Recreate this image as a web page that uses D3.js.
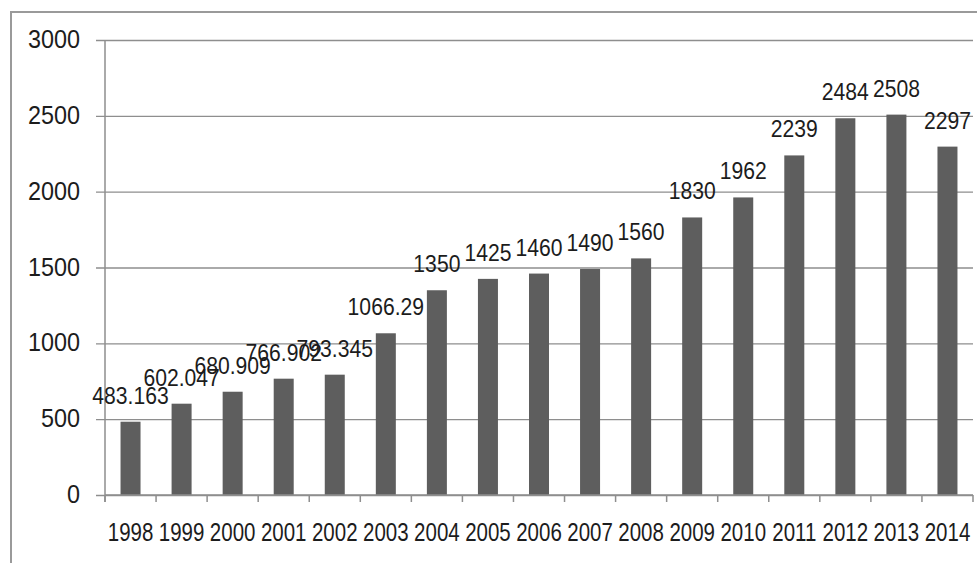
<!DOCTYPE html>
<html>
<head>
<meta charset="utf-8">
<script src="https://cdn.jsdelivr.net/npm/d3@7"></script>
<style>
  html, body { margin: 0; padding: 0; background: #fff; }
  svg { display: block; }
  text { font-family: "Liberation Sans", Arial, sans-serif; fill: #1c1c1c; }
</style>
</head>
<body>
<svg id="chart" width="977" height="563"></svg>
<script>
// Annual values, 1998–2014
const years = ["1998","1999","2000","2001","2002","2003","2004","2005","2006",
               "2007","2008","2009","2010","2011","2012","2013","2014"];
const values = [483.163, 602.047, 680.909, 766.902, 793.345, 1066.29, 1350, 1425, 1460,
                1490, 1560, 1830, 1962, 2239, 2484, 2508, 2297];
const valueLabels = ["483.163","602.047","680.909","766.902","793.345","1066.29","1350","1425","1460",
                     "1490","1560","1830","1962","2239","2484","2508","2297"];
const yTicks = [0, 500, 1000, 1500, 2000, 2500, 3000];

const W = 977, H = 563;
const plot = { left: 105, right: 973, top: 40, bottom: 495 };

const svg = d3.select("#chart");

// outer frame (top and left edges)
svg.append("path")
  .attr("d", `M11,${H} L11,12 L${W},12`)
  .attr("fill", "none")
  .attr("stroke", "#9a9a9a")
  .attr("stroke-width", 2);

const x = d3.scaleBand().domain(years).range([plot.left, plot.right]).padding(0);
const y = d3.scaleLinear().domain([0, 3000]).range([plot.bottom, plot.top]);

// horizontal gridlines with outside tick marks
const yAxis = d3.axisLeft(y).tickValues(yTicks).tickSize(-(plot.right - plot.left)).tickSizeOuter(0).tickFormat("");
const gy = svg.append("g").attr("transform", `translate(${plot.left},0)`).call(yAxis);
gy.select(".domain").remove();
gy.selectAll(".tick line")
  .attr("x1", -9)
  .attr("stroke", "#8e8e8e")
  .attr("stroke-width", 1.3);

// y tick labels (condensed)
svg.append("g").selectAll("text")
  .data(yTicks)
  .join("text")
  .attr("text-anchor", "end")
  .attr("font-size", 26)
  .attr("transform", d => `translate(80,${y(d) + 8}) scale(0.9,1)`)
  .text(d => d);

// vertical axis line
svg.append("line")
  .attr("x1", plot.left).attr("x2", plot.left)
  .attr("y1", plot.top).attr("y2", plot.bottom + 7)
  .attr("stroke", "#8e8e8e")
  .attr("stroke-width", 1.5);

// bars
const barW = 20;
svg.append("g").selectAll("rect")
  .data(values)
  .join("rect")
  .attr("x", (d, i) => x(years[i]) + x.bandwidth() / 2 - barW / 2)
  .attr("y", d => y(d))
  .attr("width", barW)
  .attr("height", d => y(0) - y(d))
  .attr("fill", "#5e5e5e");

// x axis with boundary ticks
const xEdges = years.map(d => x(d)).concat([plot.right]);
svg.append("line")
  .attr("x1", plot.left).attr("x2", plot.right)
  .attr("y1", plot.bottom).attr("y2", plot.bottom)
  .attr("stroke", "#8e8e8e")
  .attr("stroke-width", 1.5);
svg.append("g").selectAll("line")
  .data(xEdges)
  .join("line")
  .attr("x1", d => d).attr("x2", d => d)
  .attr("y1", plot.bottom).attr("y2", plot.bottom + 7)
  .attr("stroke", "#8e8e8e")
  .attr("stroke-width", 1.5);

// year labels (condensed)
svg.append("g").selectAll("text")
  .data(years)
  .join("text")
  .attr("text-anchor", "middle")
  .attr("font-size", 25)
  .attr("transform", d => `translate(${x(d) + x.bandwidth() / 2},541) scale(0.82,1)`)
  .text(d => d);

// value labels above bars (condensed)
svg.append("g").selectAll("text")
  .data(values)
  .join("text")
  .attr("text-anchor", "middle")
  .attr("font-size", 23)
  .attr("transform", (d, i) => `translate(${x(years[i]) + x.bandwidth() / 2},${y(d) - 18}) scale(0.92,1)`)
  .text((d, i) => valueLabels[i]);
</script>
</body>
</html>
